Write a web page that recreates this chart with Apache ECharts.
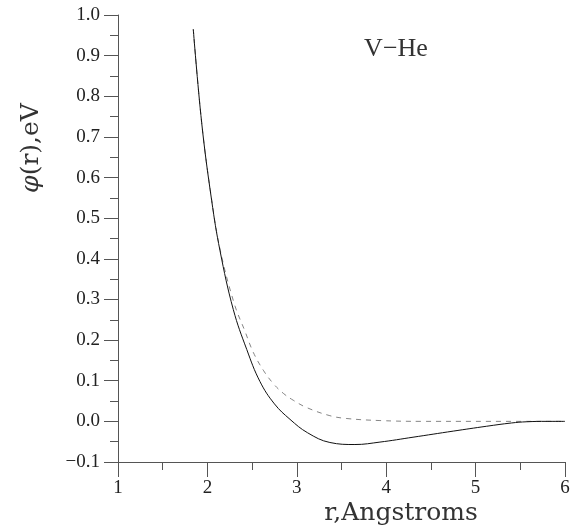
<!DOCTYPE html>
<html><head><meta charset="utf-8">
<script src="https://cdn.jsdelivr.net/npm/echarts@6/dist/echarts.min.js"></script>
<style>html,body{margin:0;padding:0;background:#fff}#c{width:581px;height:532px}</style>
</head><body><div id="c"></div>
<script>
const xTicks = [1, 2, 3, 4, 5, 6];
const yTicks = [-0.1, 0.0, 0.1, 0.2, 0.3, 0.4, 0.5, 0.6, 0.7, 0.8, 0.9, 1.0];
const rSolid = [1.842, 1.936, 2.048, 2.141, 2.290, 2.440, 2.588, 2.750, 2.924, 3.120, 3.370, 3.650, 3.930, 4.300, 4.750, 5.124, 5.400, 5.570, 5.800, 6.000];
const vSolid = [0.965, 0.735, 0.543, 0.420, 0.275, 0.177, 0.098, 0.043, 0.005, -0.028, -0.052, -0.057, -0.051, -0.039, -0.024, -0.012, -0.004, -0.001, 0.0, 0.0];
const rDashed = [1.842, 1.936, 2.048, 2.141, 2.300, 2.420, 2.513, 2.625, 2.737, 2.849, 2.960, 3.110, 3.370, 3.560, 3.930, 4.400, 5.000, 6.000];
const vDashed = [0.965, 0.735, 0.545, 0.424, 0.290, 0.222, 0.170, 0.126, 0.093, 0.069, 0.052, 0.034, 0.014, 0.007, 0.002, 0.0, 0.0, 0.0];
const title = 'V\u2212He';
const xName = 'r,Angstroms';
const yNamePhi = '\u03c6';
const yNameRest = '(r),eV';

const serif = '"Liberation Serif", "DejaVu Serif", serif';
const wideSerif = '"DejaVu Serif", "Liberation Serif", serif';
const zip = (a, b) => a.map((x, i) => [x, b[i]]);
const chart = echarts.init(document.getElementById('c'), null, {renderer: 'canvas'});
const axisCol = '#555';
chart.setOption({
  animation: false,
  backgroundColor: '#fff',
  title: {text: title, left: 391, top: 31, textAlign: 'center',
    textStyle: {fontFamily: serif, fontWeight: 'normal', fontSize: 26, color: '#333'}},
  grid: {left: 118, right: 16, top: 15, bottom: 70, containLabel: false},
  graphic: [
    {type: 'text', x: 401, y: 513, style: {text: xName, font: '25px ' + wideSerif, fill: '#333',
      textAlign: 'center', textVerticalAlign: 'middle'}},
    {type: 'text', x: 31, y: 148, rotation: Math.PI / 2,
      style: {text: '{i|' + yNamePhi + '}' + yNameRest, font: '25px ' + wideSerif, fill: '#333',
        textAlign: 'center', textVerticalAlign: 'middle',
        rich: {i: {fontStyle: 'italic', fontFamily: wideSerif, fontSize: 25, fill: '#333'}}}}
  ],
  xAxis: {
    type: 'value', min: xTicks[0], max: xTicks[xTicks.length - 1], interval: 1,
    axisLine: {show: true, onZero: false, lineStyle: {color: axisCol, width: 1}},
    axisTick: {show: true, inside: false, length: 15, lineStyle: {color: axisCol}},
    minorTick: {show: true, splitNumber: 2, length: 8, lineStyle: {color: axisCol}},
    splitLine: {show: false},
    axisLabel: {fontFamily: serif, fontSize: 19, color: '#222', margin: 17},
  },
  yAxis: {
    type: 'value', min: yTicks[0], max: yTicks[yTicks.length - 1], interval: 0.1,
    axisLine: {show: true, onZero: false, lineStyle: {color: axisCol, width: 1}},
    axisTick: {show: true, inside: false, length: 14, lineStyle: {color: axisCol}},
    minorTick: {show: true, splitNumber: 2, length: 8, lineStyle: {color: axisCol}},
    splitLine: {show: false},
    axisLabel: {fontFamily: serif, fontSize: 19, color: '#222', margin: 18,
      formatter: v => (v < -1e-9 ? '\u2212' : '') + Math.abs(v).toFixed(1)},
  },
  series: [
    {type: 'line', data: zip(rDashed, vDashed), smooth: 0.4, showSymbol: false,
      lineStyle: {color: '#777', width: 0.9, type: [5, 5]}},
    {type: 'line', data: zip(rSolid, vSolid), smooth: 0.4, showSymbol: false,
      lineStyle: {color: '#111', width: 1}},
  ],
});
</script></body></html>
